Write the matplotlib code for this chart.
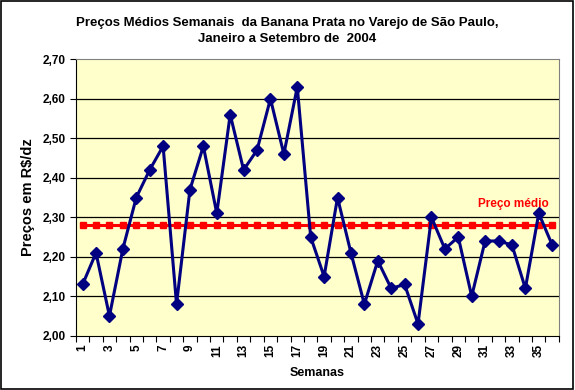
import numpy as np
import matplotlib
matplotlib.use("Agg")
import matplotlib.pyplot as plt
from matplotlib.patches import Rectangle

# Dados
semanas = list(range(1, 37))
precos = [2.13, 2.21, 2.05, 2.22, 2.35, 2.42, 2.48, 2.08, 2.37, 2.48,
          2.31, 2.56, 2.42, 2.47, 2.60, 2.46, 2.63, 2.25, 2.15, 2.35,
          2.21, 2.08, 2.19, 2.12, 2.13, 2.03, 2.30, 2.22, 2.25, 2.10,
          2.24, 2.24, 2.23, 2.12, 2.31, 2.23]
preco_medio = [2.28] * len(semanas)
yticks = [2.00, 2.10, 2.20, 2.30, 2.40, 2.50, 2.60, 2.70]

plt.rcParams['font.family'] = ['Liberation Sans', 'DejaVu Sans']
plt.rcParams['font.weight'] = 'bold'

fig = plt.figure(figsize=(5.75, 3.9), dpi=100)
fig.patches.append(Rectangle((0.002, 0.003), 0.994, 0.994, transform=fig.transFigure,
                             fill=False, edgecolor='black', linewidth=1.2))

ax = fig.add_axes([0.132, 0.139, 0.84, 0.709])
ax.set_facecolor('#FFFFCC')

for y in yticks[1:-1]:
    ax.axhline(y, color='black', linewidth=0.9, zorder=1)

ax.plot(semanas, preco_medio, color='#FF0000', linewidth=2.2, marker='s',
        markersize=4.5, zorder=2)
ax.plot(semanas, precos, color='#000080', linewidth=2.2, marker='D',
        markersize=6, zorder=3)

ax.set_xlim(0.5, 36.5)
ax.set_ylim(2.0, 2.7)
ax.set_yticks(yticks)
ax.set_yticklabels([f"{v:.2f}".replace('.', ',') for v in yticks], fontsize=8.5)

# marcas entre categorias, rótulos nas categorias ímpares
ax.set_xticks(np.arange(0.5, 37, 1))
ax.set_xticklabels([])
ax.tick_params(axis='x', length=4, direction='out', color='black')
ax.set_xticks(semanas[::2], minor=True)
ax.set_xticklabels([str(s) for s in semanas[::2]], minor=True, rotation=90,
                   fontsize=8.5)
ax.tick_params(axis='x', which='minor', length=0, pad=6)
ax.tick_params(axis='y', length=4, direction='out')

for side in ['top', 'right']:
    ax.spines[side].set_color('#808080')
ax.spines['left'].set_color('black')
ax.spines['bottom'].set_color('black')

ax.set_xlabel('Semanas', fontsize=9, fontweight='bold', labelpad=7)
ax.set_ylabel('Preços em R$/dz', fontsize=10.5, fontweight='bold', labelpad=5)

ax.text(30.5, 2.318, 'Preço médio', color='#FF0000', fontsize=8.5,
        fontweight='bold', ha='left', va='bottom')

fig.text(0.5, 0.921, 'Preços Médios Semanais  da Banana Prata no Varejo de São Paulo,\n'
         'Janeiro a Setembro de  2004', ha='center', va='center', fontsize=9.5,
         fontweight='bold', linespacing=1.5)

fig.savefig('out.png', dpi=100)
